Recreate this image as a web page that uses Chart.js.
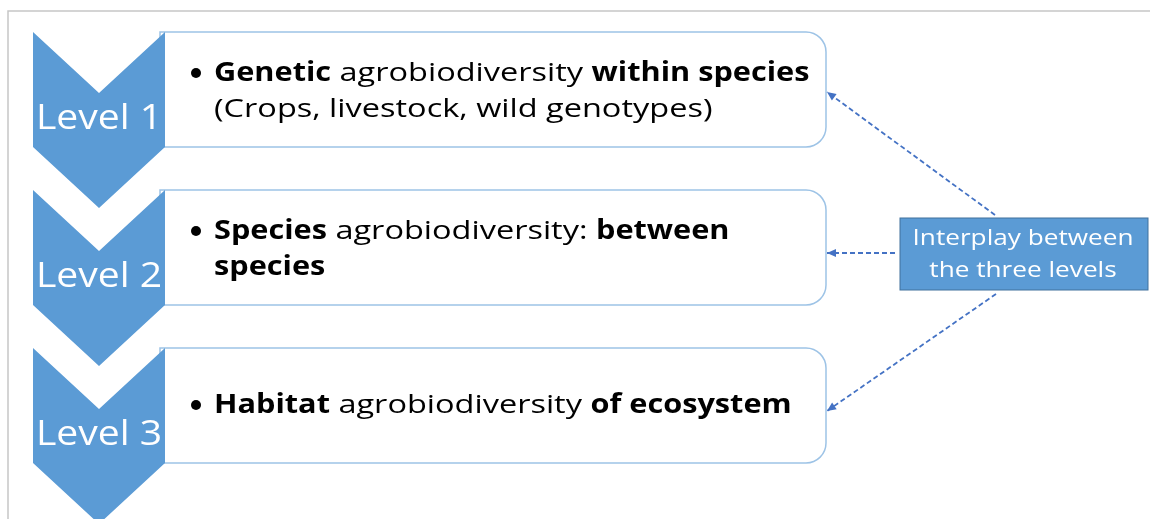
<!DOCTYPE html>
<html>
<head>
<meta charset="utf-8">
<script src="https://cdn.jsdelivr.net/npm/chart.js@4"></script>
<style>
  html, body { margin: 0; padding: 0; background: #fff; }
  #diagrama { display: block; }
</style>
</head>
<body>
<canvas id="diagrama" width="1150" height="519"></canvas>
<script>
// contenido del diagrama
const niveles = ['Level 1', 'Level 2', 'Level 3'];

// cada linea es una lista de trozos [texto, negrita]
const descripciones = [
    [
        [['Genetic', true], [' agrobiodiversity ', false], ['within species', true]],
        [['(Crops, livestock, wild genotypes)', false]]
    ],
    [
        [['Species', true], [' agrobiodiversity: ', false], ['between', true]],
        [['species', true]]
    ],
    [
        [['Habitat', true], [' agrobiodiversity ', false], ['of ecosystem', true]]
    ]
];

const etiquetaInterplay = ['Interplay between', 'the three levels'];

// flechas: desde el cuadro de la derecha hasta cada nivel
const flechasDesde = [[995, 215], [895, 253], [996, 294]];
const flechasHasta = [[827, 92], [827, 253], [827, 411]];

const FUENTE = '"Open Sans", Lato, sans-serif';
const AZUL = '#5b9bd5';

// dibuja trozos de texto con algo de estiramiento horizontal
function texto(ctx, trozos, x, y, size, estira, estiraNegrita, align) {
    ctx.save();
    ctx.translate(x, y);
    ctx.textAlign = align;
    let px = 0;
    trozos.forEach(([txt, negrita]) => {
        const s = negrita ? estiraNegrita : estira;
        ctx.font = (negrita ? 'bold ' : '') + size + 'px ' + FUENTE;
        ctx.save();
        ctx.translate(px, 0);
        ctx.scale(s, 1);
        ctx.fillText(txt, 0, 0);
        ctx.restore();
        px += ctx.measureText(txt).width * s;
    });
    ctx.restore();
}

const dibujarDiagrama = {
    id: 'dibujarDiagrama',
    beforeDatasetsDraw(chart) {
        const ctx = chart.ctx;
        const sx = chart.scales.x, sy = chart.scales.y;
        const X = v => sx.getPixelForValue(v);
        const Y = v => sy.getPixelForValue(v);

        ctx.save();
        ctx.textBaseline = 'middle';

        // marco exterior
        ctx.strokeStyle = '#c6c6c6';
        ctx.lineWidth = 1.5;
        ctx.beginPath();
        ctx.moveTo(X(8), Y(519));
        ctx.lineTo(X(8), Y(11));
        ctx.lineTo(X(1150), Y(11));
        ctx.stroke();

        niveles.forEach((nivel, i) => {
            const top = 32 + i * 158;
            const bottom = top + 115;
            const r = 20;

            // caja redondeada a la derecha
            ctx.beginPath();
            ctx.moveTo(X(160), Y(top));
            ctx.lineTo(X(826 - r), Y(top));
            ctx.arcTo(X(826), Y(top), X(826), Y(top + r), r);
            ctx.lineTo(X(826), Y(bottom - r));
            ctx.arcTo(X(826), Y(bottom), X(826 - r), Y(bottom), r);
            ctx.lineTo(X(160), Y(bottom));
            ctx.closePath();
            ctx.fillStyle = '#ffffff';
            ctx.fill();
            ctx.strokeStyle = '#9dc3e6';
            ctx.lineWidth = 1.5;
            ctx.stroke();

            // chevron
            ctx.beginPath();
            ctx.moveTo(X(33), Y(top));
            ctx.lineTo(X(99), Y(top + 61));
            ctx.lineTo(X(165), Y(top));
            ctx.lineTo(X(165), Y(bottom));
            ctx.lineTo(X(99), Y(bottom + 61));
            ctx.lineTo(X(33), Y(bottom));
            ctx.closePath();
            ctx.fillStyle = AZUL;
            ctx.fill();

            ctx.fillStyle = '#ffffff';
            texto(ctx, [[nivel, false]], X(99), Y(top + 87), 34, 1.15, 1.15, 'center');

            // texto de la caja
            const lineas = descripciones[i];
            const y0 = lineas.length === 1 ? top + 58 : top + 42;
            ctx.fillStyle = '#000000';
            lineas.forEach((linea, j) => {
                const ly = Y(y0 + j * 36);
                if (j === 0) {
                    ctx.beginPath();
                    ctx.arc(X(196), ly - 1, 5, 0, Math.PI * 2);
                    ctx.fill();
                }
                texto(ctx, linea, X(214), ly, 26, 1.25, 1.18, 'left');
            });
        });

        // cuadro interplay
        ctx.fillStyle = AZUL;
        ctx.fillRect(X(900), Y(218), X(1148) - X(900), Y(290) - Y(218));
        ctx.strokeStyle = '#41719c';
        ctx.lineWidth = 1;
        ctx.strokeRect(X(900), Y(218), X(1148) - X(900), Y(290) - Y(218));
        ctx.fillStyle = '#ffffff';
        etiquetaInterplay.forEach((t, j) => {
            texto(ctx, [[t, false]], X(1023), Y(239 + j * 32), 22, 1.19, 1.19, 'center');
        });

        ctx.restore();
    },
    afterDatasetsDraw(chart) {
        // puntas de flecha
        const ctx = chart.ctx;
        const sx = chart.scales.x, sy = chart.scales.y;
        ctx.save();
        ctx.fillStyle = '#4472c4';
        flechasHasta.forEach((p, i) => {
            const q = flechasDesde[i];
            const x1 = sx.getPixelForValue(p[0]), y1 = sy.getPixelForValue(p[1]);
            const x0 = sx.getPixelForValue(q[0]), y0 = sy.getPixelForValue(q[1]);
            const ang = Math.atan2(y1 - y0, x1 - x0);
            ctx.save();
            ctx.translate(x1, y1);
            ctx.rotate(ang);
            ctx.beginPath();
            ctx.moveTo(0, 0);
            ctx.lineTo(-9, -4);
            ctx.lineTo(-9, 4);
            ctx.closePath();
            ctx.fill();
            ctx.restore();
        });
        ctx.restore();
    }
};

const datasets = flechasDesde.map((d, i) => ({
    type: 'line',
    data: [{ x: d[0], y: d[1] }, { x: flechasHasta[i][0], y: flechasHasta[i][1] }],
    borderColor: '#4472c4',
    borderWidth: 1.8,
    borderDash: [5, 3],
    pointRadius: 0,
    fill: false
}));

new Chart(document.getElementById('diagrama').getContext('2d'), {
    type: 'scatter',
    data: { datasets: datasets },
    options: {
        responsive: false,
        animation: false,
        devicePixelRatio: 1,
        layout: { padding: 0 },
        plugins: { legend: { display: false }, tooltip: { enabled: false } },
        scales: {
            x: { type: 'linear', min: 0, max: 1150, display: false },
            y: { type: 'linear', min: 0, max: 519, reverse: true, display: false }
        }
    },
    plugins: [dibujarDiagrama]
});
</script>
</body>
</html>
